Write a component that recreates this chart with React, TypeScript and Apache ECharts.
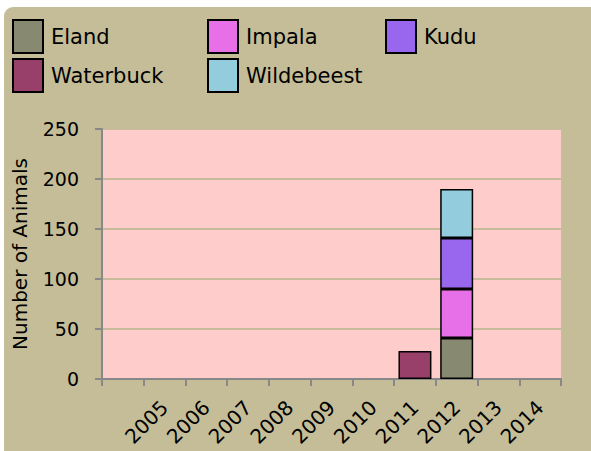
import React, { useEffect, useRef } from "react";
import * as echarts from "echarts";

const categories = ["", "2005", "2006", "2007", "2008", "2009", "2010", "2011", "2012", "2013", "2014"];
const eland = [null, null, null, null, null, null, null, null, 41, null, null];
const impala = [null, null, null, null, null, null, null, null, 49, null, null];
const kudu = [null, null, null, null, null, null, null, null, 51, null, null];
const waterbuck = [null, null, null, null, null, null, null, 28, null, null, null];
const wildebeest = [null, null, null, null, null, null, null, null, 49, null, null];
const yTicks = [0, 50, 100, 150, 200, 250];

const seriesNames = ["Eland", "Impala", "Kudu", "Waterbuck", "Wildebeest"];
const seriesData = [eland, impala, kudu, waterbuck, wildebeest];
const seriesColors = ["#878A70", "#E770E8", "#9966EE", "#98406A", "#93CDDD"];
const legendPos = [
  { left: 12, top: 19 },
  { left: 207, top: 19 },
  { left: 385, top: 19 },
  { left: 12, top: 58 },
  { left: 207, top: 58 },
];

const FONT = "DejaVu Sans";

export default function App() {
  const ref = useRef<HTMLDivElement>(null);
  useEffect(() => {
    document.body.style.margin = "0";
    const chart = echarts.init(ref.current!, null, { renderer: "svg" });
    chart.setOption({
      animation: false,
      backgroundColor: "#ffffff",
      graphic: [
        {
          type: "rect",
          z: -10,
          silent: true,
          shape: { x: 4, y: 7, width: 620, height: 480, r: 9 },
          style: { fill: "#C4BD97" },
        },
      ],
      legend: seriesNames.map((n, i) => ({
        data: [n],
        left: legendPos[i].left,
        top: legendPos[i].top,
        padding: 0,
        itemWidth: 30,
        itemHeight: 33,
        itemGap: 0,
        icon: "rect",
        selectedMode: false,
        textStyle: { fontFamily: FONT, fontSize: 21, color: "#000", padding: [0, 0, 0, 3] },
        itemStyle: { borderColor: "#000", borderWidth: 2 },
      })),
      grid: {
        left: 102,
        top: 129,
        width: 459,
        height: 250,
        show: true,
        backgroundColor: "#FFCCCC",
        borderWidth: 0,
      },
      xAxis: {
        type: "category",
        data: categories,
        axisLine: { lineStyle: { color: "#888888", width: 2 } },
        axisTick: { show: true, length: 7, lineStyle: { color: "#888888", width: 2 } },
        axisLabel: {
          interval: 0,
          rotate: 45,
          margin: 25,
          fontFamily: FONT,
          fontSize: 20,
          color: "#000",
        },
      },
      yAxis: {
        type: "value",
        min: yTicks[0],
        max: yTicks[yTicks.length - 1],
        interval: 50,
        name: "Number of Animals",
        nameLocation: "middle",
        nameGap: 72,
        nameTextStyle: { fontFamily: FONT, fontSize: 20, color: "#000" },
        axisLine: { show: true, lineStyle: { color: "#888888", width: 2 } },
        axisTick: { show: true, length: 7, lineStyle: { color: "#888888", width: 2 } },
        axisLabel: { margin: 23, fontFamily: FONT, fontSize: 19, color: "#000" },
        splitLine: { lineStyle: { color: "#C8BA9A", width: 2 } },
      },
      series: seriesNames.map((n, i) => ({
        name: n,
        type: "bar",
        stack: "total",
        data: seriesData[i],
        barCategoryGap: "21%",
        itemStyle: { color: seriesColors[i], borderColor: "#000", borderWidth: 1.5 },
      })),
    });
    return () => chart.dispose();
  }, []);
  return <div ref={ref} style={{ width: 591, height: 451 }} />;
}
